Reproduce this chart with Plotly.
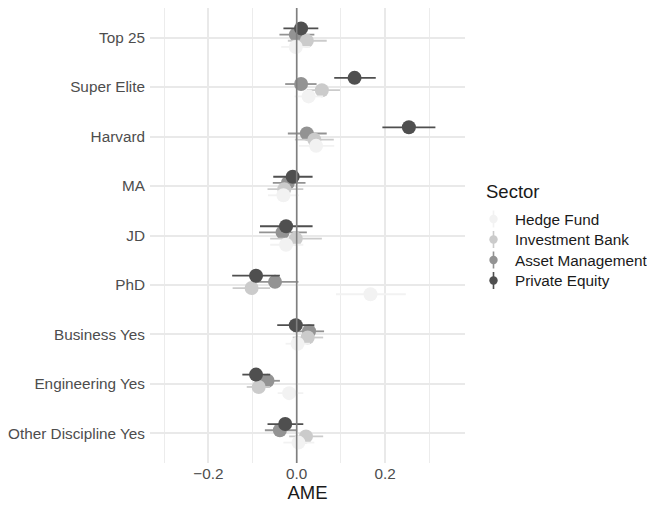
import plotly.graph_objects as go

# Covariates, listed top to bottom as they appear on the y axis
categories = ["Top 25", "Super Elite", "Harvard", "MA", "JD", "PhD",
              "Business Yes", "Engineering Yes", "Other Discipline Yes"]

sectors = ["Hedge Fund", "Investment Bank", "Asset Management", "Private Equity"]

# Average marginal effects with confidence bounds, per sector
hf_ame = [-0.002, 0.027, 0.044, -0.030, -0.024, 0.167, 0.002, -0.017, 0.004]
hf_lo = [-0.035, -0.005, 0.005, -0.065, -0.060, 0.089, -0.025, -0.043, -0.030]
hf_hi = [0.030, 0.060, 0.085, 0.005, 0.015, 0.247, 0.030, 0.015, 0.040]

ib_ame = [0.023, 0.057, 0.040, -0.028, -0.002, -0.102, 0.025, -0.086, 0.021]
ib_lo = [-0.020, 0.023, -0.004, -0.066, -0.060, -0.145, -0.009, -0.113, -0.017]
ib_hi = [0.068, 0.098, 0.084, 0.015, 0.057, -0.060, 0.060, -0.060, 0.060]

am_ame = [-0.002, 0.010, 0.023, -0.020, -0.032, -0.049, 0.028, -0.066, -0.038]
am_lo = [-0.039, -0.026, -0.020, -0.054, -0.085, -0.100, -0.008, -0.095, -0.072]
am_hi = [0.040, 0.045, 0.068, 0.020, 0.023, 0.004, 0.062, -0.038, 0.000]

pe_ame = [0.010, 0.131, 0.254, -0.009, -0.024, -0.092, -0.002, -0.092, -0.026]
pe_lo = [-0.030, 0.085, 0.194, -0.053, -0.083, -0.146, -0.044, -0.123, -0.066]
pe_hi = [0.049, 0.179, 0.314, 0.036, 0.036, -0.038, 0.040, -0.060, 0.015]

x_ticks = [-0.2, 0.0, 0.2]
x_tick_labels = ["\u22120.2", "0.0", "0.2"]

series = {
    "Hedge Fund": (hf_ame, hf_lo, hf_hi),
    "Investment Bank": (ib_ame, ib_lo, ib_hi),
    "Asset Management": (am_ame, am_lo, am_hi),
    "Private Equity": (pe_ame, pe_lo, pe_hi),
}
colors = {
    "Hedge Fund": "#f2f2f2",
    "Investment Bank": "#cbcbcb",
    "Asset Management": "#939393",
    "Private Equity": "#4f4f4f",
}
# vertical dodge (dodge width 0.5 over four groups)
dodge = {"Hedge Fund": -0.1875, "Investment Bank": -0.0625,
         "Asset Management": 0.0625, "Private Equity": 0.1875}
draw_order = ["Asset Management", "Investment Bank", "Hedge Fund", "Private Equity"]

n = len(categories)
base_y = [n - 1 - i for i in range(n)]

FONT = "Liberation Sans, Arial, Helvetica, sans-serif"
TXT = 15.3

fig = go.Figure()
for s in draw_order:
    ame, lo, hi = series[s]
    fig.add_trace(go.Scatter(
        x=ame,
        y=[b + dodge[s] for b in base_y],
        mode="markers",
        name=s,
        showlegend=False,
        marker=dict(size=14, color=colors[s], line=dict(width=0)),
        error_x=dict(type="data", symmetric=False,
                     array=[h - a for a, h in zip(ame, hi)],
                     arrayminus=[a - l for a, l in zip(ame, lo)],
                     color=colors[s], thickness=1.8, width=0),
    ))

# panel geometry (pixels) used to place the hand-built legend
W, H = 647, 506
L, R, T, B = 150, 182, 8, 43
PW, PH = W - L - R, H - T - B


def px_x(px):
    return (px - L) / PW


def px_y(py):
    return (H - B - py) / PH


shapes = [dict(type="line", xref="x", yref="y domain", x0=0, x1=0, y0=0, y1=1,
               line=dict(color="#7f7f7f", width=1.6), layer="above")]
annotations = [dict(text="Sector", xref="paper", yref="paper",
                    x=px_x(484), y=px_y(191), xanchor="left", yanchor="middle",
                    showarrow=False, font=dict(family=FONT, size=18.5, color="#1a1a1a"))]

legend_y = [219, 239.5, 260, 280.5]
for s, ly in zip(sectors, legend_y):
    kx = 493.5
    shapes.append(dict(type="line", xref="paper", yref="paper",
                       x0=px_x(kx), x1=px_x(kx), y0=px_y(ly - 8.5), y1=px_y(ly + 8.5),
                       line=dict(color=colors[s], width=1.6)))
    shapes.append(dict(type="circle", xref="paper", yref="paper",
                       x0=px_x(kx - 4.2), x1=px_x(kx + 4.2),
                       y0=px_y(ly + 4.2), y1=px_y(ly - 4.2),
                       fillcolor=colors[s], line=dict(width=0)))
    annotations.append(dict(text=s, xref="paper", yref="paper",
                            x=px_x(513), y=px_y(ly), xanchor="left", yanchor="middle",
                            showarrow=False,
                            font=dict(family=FONT, size=TXT, color="#1a1a1a")))

fig.update_layout(
    width=W, height=H,
    margin=dict(l=L, r=R, t=T, b=B, pad=0),
    paper_bgcolor="white", plot_bgcolor="white",
    font=dict(family=FONT, size=TXT, color="#4d4d4d"),
    shapes=shapes,
    annotations=annotations,
    showlegend=False,
)

fig.update_xaxes(
    range=[-0.332, 0.381],
    tickvals=x_ticks, ticktext=x_tick_labels,
    showgrid=True, gridcolor="#e9e9e9", gridwidth=1.7,
    minor=dict(tickvals=[-0.3, -0.1, 0.1, 0.3], showgrid=True,
               gridcolor="#ececec", gridwidth=1.1, ticks=""),
    zeroline=False, showline=False, ticks="",
    tickfont=dict(family=FONT, size=TXT, color="#4d4d4d"),
    title=dict(text="AME", font=dict(family=FONT, size=18.5, color="#1a1a1a"), standoff=2),
    automargin=False,
)
fig.update_yaxes(
    range=[-0.6, n - 1 + 0.6],
    tickvals=base_y, ticktext=categories,
    showgrid=True, gridcolor="#e9e9e9", gridwidth=1.7,
    zeroline=False, showline=False, ticks="",
    ticklabelstandoff=4,
    tickfont=dict(family=FONT, size=TXT, color="#4d4d4d"),
    automargin=False,
)

fig.write_html("out.html")
